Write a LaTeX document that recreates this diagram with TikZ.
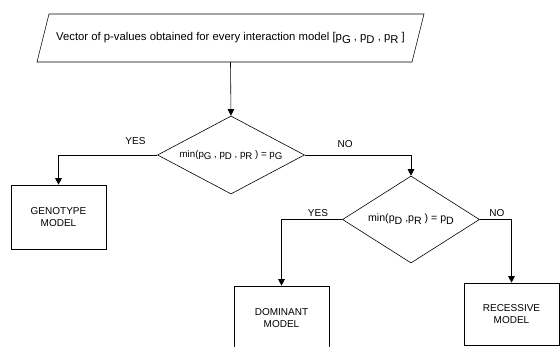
\documentclass[tikz,border=0pt]{standalone}
\usepackage{fontspec}
\setmainfont{Liberation Sans}
\usetikzlibrary{shapes.geometric,arrows.meta}
\newcommand{\psub}[1]{p\raisebox{-0.5ex}{#1}}
\begin{document}
\begin{tikzpicture}[x=1pt,y=-1pt,
        every node/.style={font=\fontsize{10}{12}\selectfont},
        line/.style={line width=0.6pt},
        flow/.style={line, -{Triangle[length=6.5pt,width=6.5pt]}},
        modelbox/.style={draw, line width=0.6pt, align=center, minimum width=95pt, minimum height=64pt, inner sep=0pt},
        decision/.style={draw, line width=0.6pt, diamond, inner sep=0pt},
        answer/.style={inner sep=0pt}]
    \useasboundingbox (0,0) rectangle (560,347);

    \draw[line] (49,14) -- (424,14) -- (412,62) -- (37,62) -- cycle;
    \node[minimum width=363pt, minimum height=48pt, inner sep=0pt, font=\fontsize{11.3}{13}\selectfont]
          (vec) at (230.5,38) {Vector of p-values obtained for every interaction model [\psub{G} , \psub{D} , \psub{R} ]};

    \node[decision, minimum width=147pt, minimum height=78pt,
          label={[font=\fontsize{9.7}{12}\selectfont]center:min(\psub{G} , \psub{D} , \psub{R} ) = \psub{G}}] (d1) at (231,155) {};
    \node[decision, minimum width=137pt, minimum height=87pt,
          label={[font=\fontsize{10.6}{12}\selectfont]center:min(\psub{D} ,\psub{R} ) = \psub{D}}] (d2) at (411,219.5) {};

    \node[modelbox] (geno) at (58.5,217) {GENOTYPE\\MODEL};
    \node[modelbox] (dom) at (281.5,318) {DOMINANT\\MODEL};
    \node[modelbox, minimum height=62pt] (rec) at (511.5,314) {RECESSIVE\\MODEL};

    \draw[flow] (vec.south) -- (d1.north);
    \draw[flow] (d1.west) -| node[answer, pos=0.11, above=10pt] {YES} (geno.north);
    \draw[flow] (d1.east) -| node[answer, pos=0.19, above=7pt] {NO} (d2.north);
    \draw[flow] (d2.west) -| node[answer, pos=0.2, above=3pt] {YES} (dom.north);
    \draw[flow] (d2.east) -| node[answer, pos=0.27, above=3pt] {NO} (rec.north);
\end{tikzpicture}
\end{document}
